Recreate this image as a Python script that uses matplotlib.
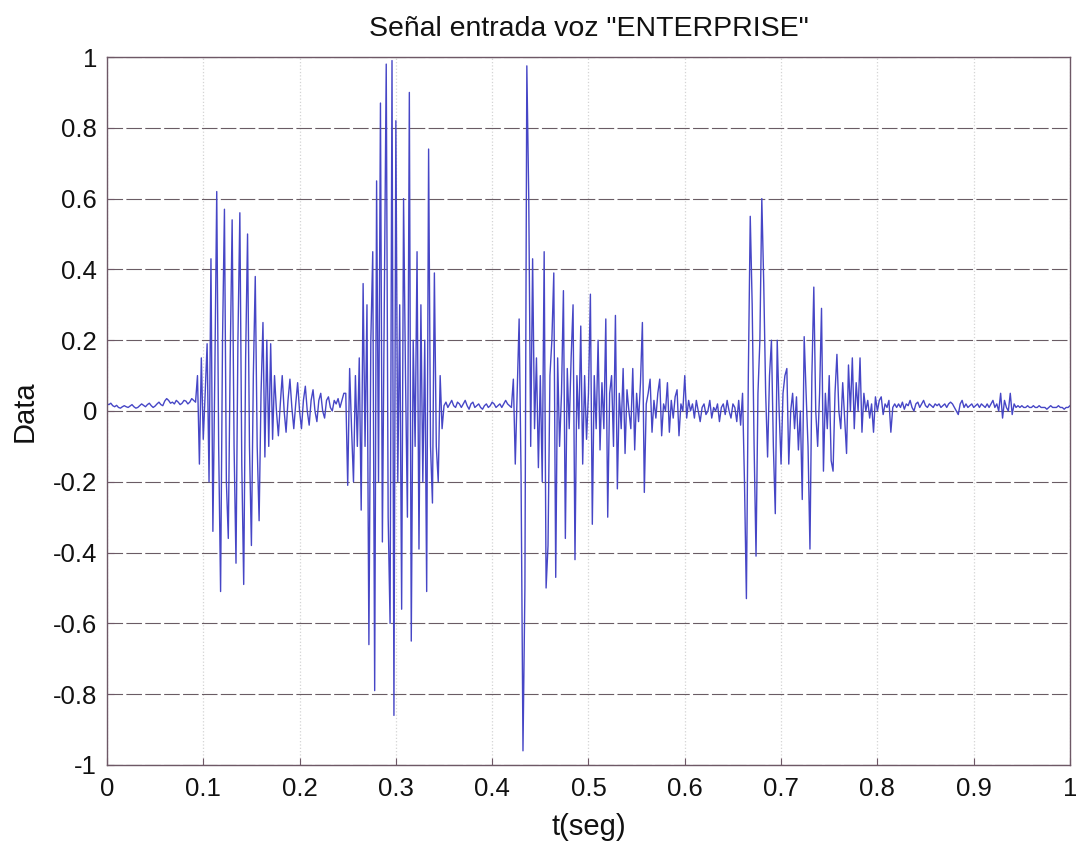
import numpy as np
import matplotlib
matplotlib.use("Agg")
import matplotlib.pyplot as plt

plt.rcParams['font.family'] = ['Liberation Sans', 'DejaVu Sans']

# Signal samples (2 ms spacing)
quiet1 = [0.02, 0.018, 0.022, 0.015, 0.012, 0.016, 0.01, 0.008, 0.012, 0.015,
          0.012, 0.01, 0.014, 0.018, 0.012, 0.008, 0.01, 0.015, 0.02, 0.016,
          0.012, 0.018, 0.022, 0.015, 0.01, 0.014, 0.02, 0.025, 0.018, 0.015,
          0.028, 0.035, 0.03, 0.022, 0.025, 0.02, 0.03, 0.025, 0.018, 0.022,
          0.03, 0.028, 0.02, 0.025, 0.035, 0.03, 0.025]
burst1 = [0.1, -0.15, 0.15, -0.08, 0.05, 0.19, -0.2, 0.43, -0.34, 0.1,
          0.62, -0.1, -0.51, 0.2, 0.57, -0.2, -0.36, 0.15, 0.54, -0.1,
          -0.43, 0.2, 0.56, -0.15, -0.49, 0.15, 0.5, -0.1, -0.38, 0.1,
          0.38, -0.1, -0.31, 0.05, 0.25, -0.13, 0.2, -0.1, 0.19]
decay1 = [-0.08, 0.1, 0.0, -0.07, 0.02, 0.1, 0.0, -0.06, 0.03, 0.09,
          0.01, -0.05, 0.02, 0.08, 0.0, -0.05, 0.03, 0.07, 0.0, -0.04,
          0.03, 0.06, 0.0, -0.03, 0.03, 0.05, 0.0, -0.02, 0.03, 0.04,
          0.01, 0.0, 0.03, 0.02, 0.035, 0.01, 0.03, 0.05]
burst2 = [0.05, -0.21, 0.12, -0.05, -0.2, 0.1, -0.1, 0.15, -0.28, 0.36,
          -0.1, 0.3, -0.66, 0.2, 0.45, -0.79, 0.65, -0.2, 0.87, -0.37,
          0.3, 0.98, -0.3, -0.6, 0.99, -0.86, 0.82, -0.2, 0.3, -0.56,
          0.6, 0.1, -0.3, 0.9, -0.65, 0.2, -0.1, 0.45, -0.39, 0.3,
          -0.2, 0.2, -0.51, 0.74, -0.1, -0.26, 0.39, -0.1, -0.2, 0.1,
          -0.05]
quiet2 = [0.015, 0.025, 0.01, 0.02, 0.03, 0.015, 0.01, 0.025, 0.02,
          0.01, 0.02, 0.03, 0.015, 0.005, 0.02, 0.025, 0.01, 0.015, 0.02,
          0.01, 0.005, 0.015, 0.02, 0.01, 0.015, 0.025, 0.02, 0.01, 0.015,
          0.02, 0.01, 0.02, 0.03, 0.02, 0.015, 0.01]
burst3 = [0.09, -0.15, 0.05, 0.26, -0.18, -0.96, -0.5, 0.975, 0.6, -0.1,
          0.43, -0.05, 0.15, -0.16, 0.1, -0.2, 0.45, -0.5, -0.38, 0.1,
          0.2, 0.39, -0.47, 0.15, -0.1, 0.05, 0.34, -0.36, 0.12, -0.05,
          0.15, 0.3, -0.42, 0.1, -0.05, 0.24, -0.15, 0.1, -0.08, 0.05,
          0.33, -0.32, 0.1, -0.05, 0.2, -0.11, 0.08, -0.05, 0.26, -0.3,
          0.05, 0.1, -0.1, 0.27, -0.22, 0.05, -0.05, 0.12, -0.12, 0.06,
          0.0, -0.05, 0.12, -0.11, 0.05, -0.03, 0.08, 0.25, -0.23, 0.02,
          0.05, 0.09, -0.06, 0.03, -0.02, 0.05, 0.09, -0.07, 0.02, 0.0,
          0.08, -0.06, 0.03, -0.02, 0.04, 0.06, -0.07, 0.02, 0.0, 0.1,
          -0.02, 0.03]
quiet3 = [0.0, 0.02, -0.02, 0.03, 0.0, -0.03, 0.01, 0.02, -0.01, 0.0,
          0.03, -0.02, 0.01, 0.0, 0.02, -0.03, 0.01, 0.02, -0.01, 0.03,
          0.0, -0.02, 0.02, 0.01, -0.03, 0.03, -0.04, 0.05]
burst4 = [-0.2, -0.53, 0.1, 0.55, 0.3, -0.1, -0.41, 0.05, 0.2, 0.6,
          0.36, 0.05, -0.13, 0.1, 0.2, -0.1, -0.29, 0.2, 0.0, -0.15,
          0.05, 0.1, 0.12, -0.15, 0.0, 0.05, -0.05, 0.04, -0.11, 0.0,
          -0.25, 0.21, 0.05, -0.1, -0.39, 0.1, 0.35, 0.0, -0.1, 0.05,
          0.29, -0.17, 0.05, -0.05, 0.1, -0.14, -0.17, 0.05, 0.16, 0.0,
          -0.05, 0.08, -0.02, -0.12, 0.13, 0.0, 0.15, -0.05, 0.08, 0.0,
          0.15, -0.06, 0.05, 0.0, 0.03, -0.02, 0.02, -0.06, 0.04, 0.0,
          0.03, 0.04, -0.01, 0.02, 0.01, 0.03, -0.06, 0.01, 0.02, 0.01]
quiet4 = [0.02, 0.01, 0.025, 0.005, 0.02, 0.015, 0.03, 0.01, 0.0, 0.02,
          0.025, 0.01, 0.02, 0.03, 0.015, 0.01, 0.02, 0.015, 0.01, 0.02,
          0.015, 0.02, 0.01, 0.015, 0.02, 0.01, 0.02, 0.025, 0.02, 0.01,
          0.0, -0.01, 0.02, 0.03, 0.01, 0.02, 0.01, 0.015, 0.02, 0.01,
          0.015, 0.02, 0.01, 0.02, 0.015, 0.01, 0.02, 0.01, 0.02, 0.03,
          0.01, 0.02, 0.0, 0.05, -0.02, 0.03, 0.01, 0.0, 0.05, -0.01,
          0.02, 0.01, 0.015, 0.01, 0.015, 0.01, 0.01, 0.015, 0.01, 0.01,
          0.015, 0.01, 0.01, 0.015, 0.01, 0.01, 0.01, 0.005, 0.01, 0.015,
          0.01, 0.01, 0.01, 0.015, 0.01, 0.01, 0.005, 0.01, 0.01, 0.015]

signal = np.array(quiet1 + burst1 + decay1 + burst2 + quiet2 +
                  burst3 + quiet3 + burst4 + quiet4)
sample_period = 0.002
t = np.arange(len(signal)) * sample_period

xticks = [0, 0.1, 0.2, 0.3, 0.4, 0.5, 0.6, 0.7, 0.8, 0.9, 1]
xtick_labels = ["0", "0.1", "0.2", "0.3", "0.4", "0.5", "0.6", "0.7", "0.8", "0.9", "1"]
yticks = [-1, -0.8, -0.6, -0.4, -0.2, 0, 0.2, 0.4, 0.6, 0.8, 1]
ytick_labels = ["-1", "-0.8", "-0.6", "-0.4", "-0.2", "0", "0.2", "0.4", "0.6", "0.8", "1"]

fig = plt.figure(figsize=(10.76, 8.41), dpi=100)
ax = fig.add_axes([0.0994, 0.0904, 0.895, 0.8418])

ax.plot(t, signal, color='#4646c6', lw=1.0)

ax.set_xlim(0, 1)
ax.set_ylim(-1, 1)
ax.set_xticks(xticks)
ax.set_xticklabels(xtick_labels)
ax.set_yticks(yticks)
ax.set_yticklabels(ytick_labels)

spine_color = '#6e5866'
for s in ax.spines.values():
    s.set_color(spine_color)
    s.set_linewidth(1.0)

ax.tick_params(direction='in', length=5, color=spine_color, labelsize=18.5,
               labelcolor='#111111')
ax.tick_params(axis='x', pad=9)
ax.tick_params(axis='y', pad=7)

ax.yaxis.grid(True, color='#6a5c64', linestyle=(0, (14, 3)), linewidth=0.8)
ax.xaxis.grid(True, color='#d4d4d4', linestyle=':', linewidth=0.9)
ax.set_axisbelow(True)

ax.set_title('Señal entrada voz "ENTERPRISE"', fontsize=20.5, pad=15, color='#111111')
ax.set_xlabel('t(seg)', fontsize=21, labelpad=8, color='#111111')
ax.set_ylabel('Data', fontsize=21, labelpad=10, color='#111111')

fig.savefig('out.png', dpi=100)
